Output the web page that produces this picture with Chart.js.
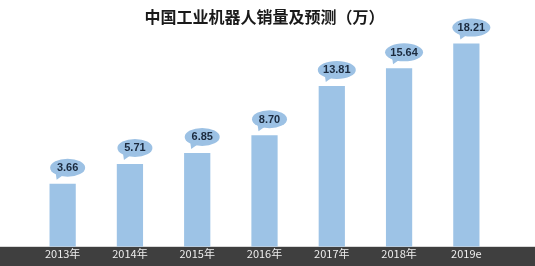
<!DOCTYPE html>
<html>
<head>
<meta charset="utf-8">
<script src="https://cdn.jsdelivr.net/npm/chart.js@4/dist/chart.umd.min.js"></script>
<style>
    html, body { margin: 0; padding: 0; background: #fff; }
    #wrap { width: 535px; height: 266px; }
</style>
</head>
<body>
<div id="wrap"><canvas id="salesChart" width="535" height="266"></canvas></div>
<script>
// Chart data
const years = ['2013年', '2014年', '2015年', '2016年', '2017年', '2018年', '2019e'];
const sales = [3.66, 5.71, 6.85, 8.70, 13.81, 15.64, 18.21];
const salesLabels = ['3.66', '5.71', '6.85', '8.70', '13.81', '15.64', '18.21'];

const BAR_COLOR = '#9dc3e6';
const BUBBLE_COLOR = '#9cc1e4';
const BAND_COLOR = '#3f3f3f';
const SCALE_MIN = -2.9;

// Dark band under the bars
const bottomBand = {
    id: 'bottomBand',
    beforeDraw(chart) {
        const ctx = chart.ctx;
        const area = chart.chartArea;
        ctx.save();
        ctx.fillStyle = BAND_COLOR;
        ctx.fillRect(0, area.bottom, chart.width, chart.height - area.bottom);
        ctx.restore();
    }
};

// Speech bubble value labels
const bubbleLabels = {
    id: 'bubbleLabels',
    afterDatasetsDraw(chart) {
        const ctx = chart.ctx;
        const meta = chart.getDatasetMeta(0);
        ctx.save();
        meta.data.forEach((bar, i) => {
            const cx = bar.x + 5;
            const cy = bar.y - 16;
            const rx = salesLabels[i].length > 4 ? 19 : 17.5;
            const ry = 9;
            ctx.fillStyle = BUBBLE_COLOR;
            ctx.beginPath();
            ctx.ellipse(cx, cy, rx, ry, 0, 0, Math.PI * 2);
            ctx.fill();
            // tail
            ctx.beginPath();
            ctx.moveTo(bar.x - 7, cy + 5);
            ctx.lineTo(bar.x + 1, cy + 7);
            ctx.lineTo(bar.x - 6, bar.y - 4);
            ctx.closePath();
            ctx.fill();
            ctx.fillStyle = '#1b2a3e';
            ctx.font = 'bold 11px "Liberation Sans", Arial, sans-serif';
            ctx.textAlign = 'center';
            ctx.textBaseline = 'middle';
            ctx.fillText(salesLabels[i], cx, cy + 0.5);
        });
        ctx.restore();
    }
};

const salesChart = new Chart(document.getElementById('salesChart'), {
    type: 'bar',
    data: {
        labels: years,
        datasets: [{
            data: sales,
            base: SCALE_MIN,
            backgroundColor: BAR_COLOR,
            borderWidth: 0,
            barPercentage: 0.39,
            categoryPercentage: 1
        }]
    },
    options: {
        responsive: false,
        animation: false,
        layout: {
            padding: { left: 29, right: 35, top: 0, bottom: 6 }
        },
        plugins: {
            legend: { display: false },
            tooltip: { enabled: false },
            title: {
                display: true,
                text: '中国工业机器人销量及预测（万）',
                color: '#1a1a1a',
                font: { size: 16, weight: 'bold', family: '"Noto Sans CJK SC", sans-serif' },
                padding: { top: 7, bottom: 4 }
            }
        },
        scales: {
            x: {
                grid: { display: false, drawTicks: false },
                border: { display: false },
                ticks: {
                    color: '#eeeeee',
                    padding: 0,
                    font: { size: 11, family: '"Noto Sans CJK SC", "Open Sans", sans-serif' }
                }
            },
            y: {
                display: false,
                min: SCALE_MIN,
                max: 19.6
            }
        }
    },
    plugins: [bottomBand, bubbleLabels]
});
</script>
</body>
</html>
